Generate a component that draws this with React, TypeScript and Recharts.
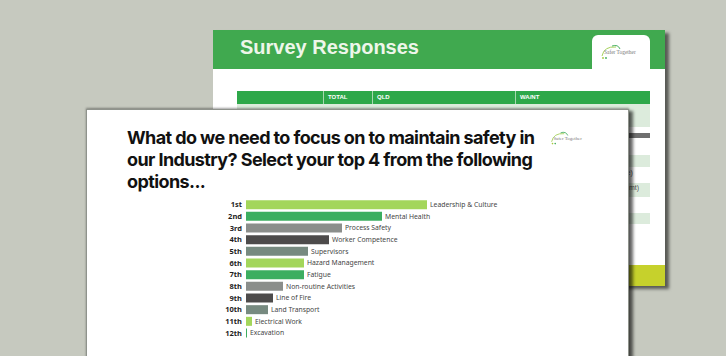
import { BarChart, Bar, XAxis, YAxis, Cell, LabelList } from 'recharts'

const ranks = ['1st', '2nd', '3rd', '4th', '5th', '6th', '7th', '8th', '9th', '10th', '11th', '12th']
const options = [
  'Leadership & Culture',
  'Mental Health',
  'Process Safety',
  'Worker Competence',
  'Supervisors',
  'Hazard Management',
  'Fatigue',
  'Non-routine Activities',
  'Line of Fire',
  'Land Transport',
  'Electrical Work',
  'Excavation',
]
const votes = [181, 136, 96, 83, 62, 58, 58, 37, 27, 22, 6, 1]
const barColors = ['#a3d65b', '#3cae60', '#8b8e8b', '#4d4b4b', '#778a80']

const titleLines = [
  'What do we need to focus on to maintain safety in',
  'our Industry? Select your top 4 from the following',
  'options...',
]

const tableCols = ['', 'TOTAL', 'QLD', 'WA/NT']

// stripes of the back slide table, as seen at its right edge
const stripes = [
  { top: 74, h: 23, bg: '#dcebdc' },
  { top: 103, h: 5, bg: '#6f6f6f' },
  { top: 125, h: 12, bg: '#dcebdc' },
  { top: 153, h: 14, bg: '#dcebdc' },
  { top: 183, h: 11, bg: '#dcebdc' },
]
const cellTails = [
  { top: 139, text: 'Contractors (Site)' },
  { top: 154, text: 'Supervisors (Mgmt)' },
  { top: 169, text: 'Operators (Site)' },
]

function Logo({ left, top, scale }: { left: number; top: number; scale: number }) {
  return (
    <div style={{ position: 'absolute', left, top, width: 46 * scale, height: 16 * scale }}>
      <svg width={46 * scale} height={16 * scale} viewBox="0 0 46 16" style={{ position: 'absolute', left: 0, top: 0 }}>
        <path d="M4 12 Q6 2 18 3" stroke="#9ccc4a" strokeWidth={0.9} fill="none" />
        <path d="M14 2 Q20 0 22 5" stroke="#3caa5a" strokeWidth={0.9} fill="none" />
        <circle cx={5} cy={14} r={0.9} fill="#a6c83a" />
        <circle cx={8} cy={14} r={0.9} fill="#3caa5a" />
        <text x={6} y={10} fontSize={5.4} fill="#7a7a7a" fontFamily="Liberation Serif">
          Safer Together
        </text>
      </svg>
    </div>
  )
}

export default function App() {
  const data = ranks.map((rank, i) => ({ rank, option: options[i], votes: votes[i] }))

  return (
    <div
      style={{
        position: 'fixed',
        left: 0,
        top: 0,
        width: 726,
        height: 356,
        overflow: 'hidden',
        background: '#c6c9bf',
      }}
    >
      {/* back slide */}
      <div
        style={{
          position: 'absolute',
          left: 213,
          top: 30,
          width: 452,
          height: 256,
          background: '#fff',
          boxShadow: '4px 3px 3px rgba(0,0,0,0.55)',
          overflow: 'hidden',
        }}
      >
        <div style={{ position: 'absolute', left: 0, top: 0, width: 452, height: 39, background: '#40a94f' }} />
        <div
          style={{
            position: 'absolute',
            left: 27,
            top: 6,
            color: '#eef6ea',
            fontFamily: 'Liberation Sans',
            fontWeight: 700,
            fontSize: 20,
          }}
        >
          Survey Responses
        </div>
        <div
          style={{
            position: 'absolute',
            left: 379,
            top: 5,
            width: 58,
            height: 40,
            background: '#fff',
            borderRadius: '6px 6px 0 0',
          }}
        />
        <Logo left={385} top={14} scale={1.0} />
        {stripes.map((s, i) => (
          <div key={i} style={{ position: 'absolute', left: 24, top: s.top, width: 413, height: s.h, background: s.bg }} />
        ))}
        {cellTails.map((c, i) => (
          <div
            key={i}
            style={{
              position: 'absolute',
              left: 365,
              top: c.top,
              fontSize: 7,
              fontFamily: 'Liberation Sans',
              color: '#555',
            }}
          >
            {c.text}
          </div>
        ))}
        <div style={{ position: 'absolute', left: 24, top: 61, width: 413, height: 13, background: '#2ea84a', display: 'flex' }}>
          {tableCols.map((c, i) => (
            <div
              key={i}
              style={{
                width: [86, 49, 143, 135][i],
                borderLeft: i ? '1px solid #a7d8b0' : 'none',
                color: '#fff',
                fontSize: 6,
                fontWeight: 700,
                fontFamily: 'Liberation Sans',
                lineHeight: '13px',
                paddingLeft: 4,
                boxSizing: 'border-box',
              }}
            >
              {c}
            </div>
          ))}
        </div>
        <div style={{ position: 'absolute', left: 250, top: 235, width: 202, height: 21, background: '#c6d12c' }} />
      </div>

      {/* front slide */}
      <div
        style={{
          position: 'absolute',
          left: 86,
          top: 109,
          width: 541,
          height: 260,
          background: '#fff',
          border: '1px solid #8f938c',
          boxShadow: '0 -1px 2px rgba(0,0,0,0.35), 4px 2px 3px rgba(0,0,0,0.6)',
        }}
      />
      <div
        style={{
          position: 'absolute',
          left: 127,
          top: 127,
          fontFamily: 'Inter',
          fontWeight: 700,
          fontSize: 18,
          letterSpacing: -0.6,
          lineHeight: '22px',
          color: '#111',
          whiteSpace: 'nowrap',
        }}
      >
        {titleLines.map((l) => (
          <div key={l}>{l}</div>
        ))}
      </div>
      <Logo left={548} top={131} scale={0.9} />

      <div style={{ position: 'absolute', left: 180, top: 199, fontFamily: 'Noto Sans' }}>
        <BarChart
          width={400}
          height={140}
          layout="vertical"
          data={data}
          margin={{ top: 0, right: 0, left: 0, bottom: 0 }}
          barCategoryGap="10%"
        >
          <XAxis type="number" hide domain={[0, 334]} />
          <YAxis
            type="category"
            dataKey="rank"
            width={66}
            axisLine={false}
            tickLine={false}
            tickSize={2}
            tickMargin={2}
            interval={0}
            tick={{ fontSize: 7.5, fontWeight: 700, fill: '#1e1e1e' }}
          />
          <Bar dataKey="votes" isAnimationActive={false}>
            {data.map((d, i) => (
              <Cell key={d.rank} fill={barColors[i % barColors.length]} />
            ))}
            <LabelList dataKey="option" position="right" offset={3} fontSize={6.8} fill="#454545" />
          </Bar>
        </BarChart>
      </div>
    </div>
  )
}
